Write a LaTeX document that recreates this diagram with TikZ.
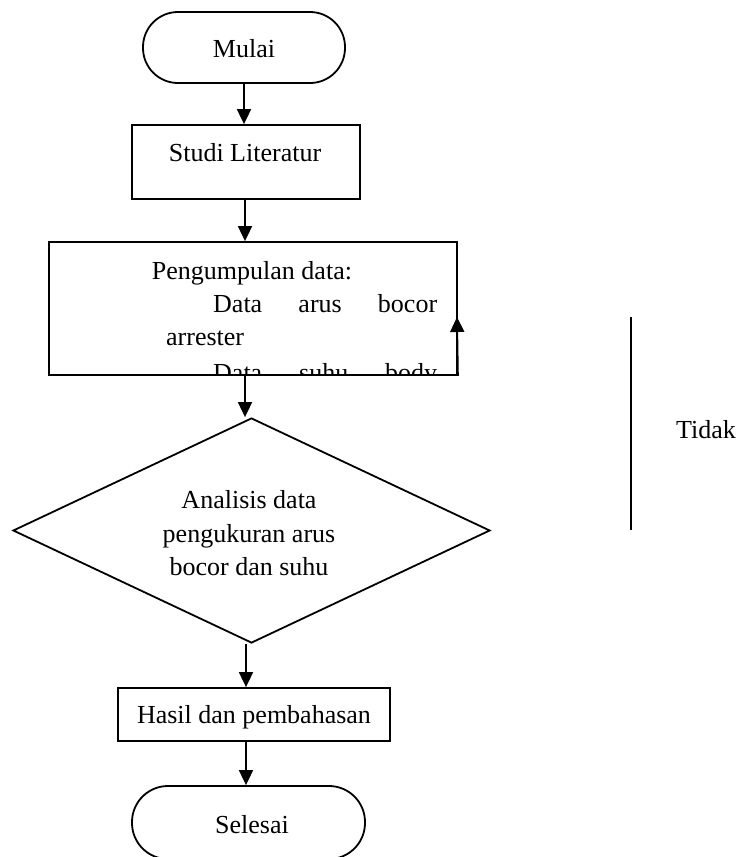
\documentclass[tikz,border=0pt]{standalone}
\usepackage{fontspec}
\setmainfont{Liberation Serif}
\usetikzlibrary{arrows.meta,shapes.geometric}
\tikzset{
  lw/.style={line width=1.8pt},
  box/.style={draw, lw, inner sep=0pt, rectangle},
  arr/.style={lw, -{Triangle[length=15pt,width=14pt]}},
  txt/.style={font=\fontsize{26}{33}\selectfont, inner sep=0pt, anchor=base},
}
\begin{document}
\begin{tikzpicture}[x=1pt,y=-1pt]
\useasboundingbox (0,0) rectangle (741,857);
% Mulai
\node[box, rounded corners=35pt, minimum width=202pt, minimum height=71pt] (mulai) at (244,47.5) {};
\node[txt] (mulait) at (244,57) {Mulai};
% Studi Literatur
\node[box, minimum width=228pt, minimum height=74pt] (studi) at (246,162) {};
\node[txt] (studit) at (245,161) {Studi Literatur};
% Pengumpulan data
\begin{scope}
\clip (49,242) rectangle (457,373);
\node[txt] (d0) at (252,279) {Pengumpulan data:};
\node[txt, anchor=base west] (d1) at (213,312) {\makebox[224pt][s]{Data\hfill arus\hfill bocor}};
\node[txt, anchor=base west] (d2) at (166,345) {arrester};
\node[txt, anchor=base west] (d3) at (213,381) {\makebox[224pt][s]{Data\hfill suhu\hfill body}};
\end{scope}
\node[box, minimum width=408pt, minimum height=133pt] (data) at (253,308.5) {};
% Diamond
\node[draw, lw, diamond, inner sep=0pt, minimum width=477pt, minimum height=225pt] (anal) at (251.5,530.5) {};
\node[txt] (a1) at (249,508) {Analisis data};
\node[txt] (a2) at (249,542) {pengukuran arus};
\node[txt] (a3) at (249,575) {bocor dan suhu};
% Hasil
\node[box, minimum width=272pt, minimum height=53pt] (hasil) at (254,714.5) {};
\node[txt] (hasilt) at (254,723) {Hasil dan pembahasan};
% Selesai
\node[box, rounded corners=36pt, minimum width=233pt, minimum height=73pt] (selesai) at (248.5,822.5) {};
\node[txt] (selesait) at (252,833) {Selesai};
% Tidak
\node[txt] (tidak) at (706,438) {Tidak};
% connectors
\coordinate (x1) at (244,0);
\coordinate (x2) at (245,0);
\coordinate (x3) at (246,0);
\draw[arr] (mulai.south -| x1) -- (studi.north -| x1);
\draw[arr] (studi.south -| x2) -- (data.north -| x2);
\draw[arr] (data.south -| x2) -- (anal.north -| x2);
\draw[arr] (anal.south -| x3) -- (hasil.north -| x3);
\draw[arr] (hasil.south -| x3) -- (selesai.north -| x3);
\coordinate (tip) at (457,317);
\draw[arr] (data.south east) -- (tip);
\coordinate (lt) at (631,317);
\coordinate (lb) at (631,530);
\draw[lw] (lt) -- (lb);
\end{tikzpicture}
\end{document}
